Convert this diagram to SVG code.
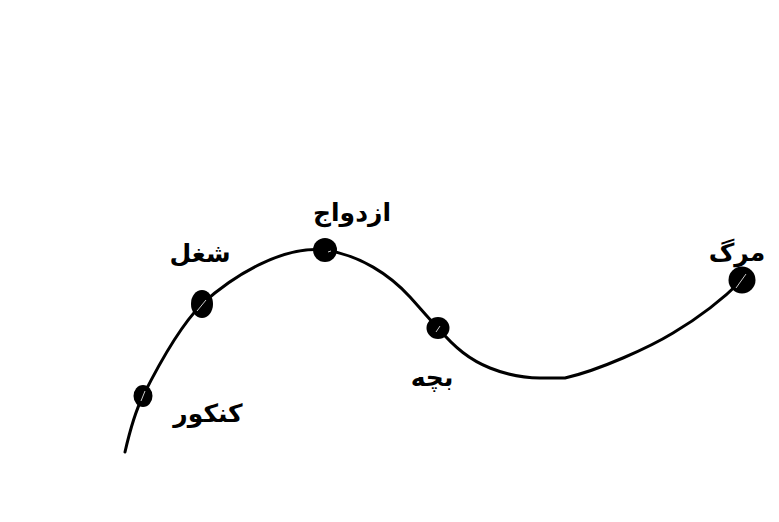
<svg xmlns="http://www.w3.org/2000/svg" width="779" height="522" viewBox="0 0 779 522">
<style>
.curve{fill:none;stroke:#000;stroke-width:3;stroke-linecap:round;stroke-linejoin:round}
.dot{fill:#000}
.hl{stroke:#fff;stroke-width:1;opacity:0.8}
.lbl{font-family:"DejaVu Sans",sans-serif;font-weight:bold;font-size:25px;fill:#000;text-anchor:middle;direction:rtl}
</style>
<rect width="779" height="522" fill="#fff"/>
<g id="connectors">
<path class="curve" d="M125,452 C130,430 136,410 143,396 C160,362 180,326 202,304 C235,274 285,245 325,250 C360,255 390,275 410,297 C420,308 430,320 438,328 C455,348 470,360 490,368 C505,374 520,378 540,378 L565,378 C600,370 650,347 673,333 C700,317 722,300 742,280"/>
</g>
<g id="konkur">
<ellipse class="dot" cx="143" cy="396" rx="9.5" ry="11"/>
<line class="hl" x1="141" y1="401" x2="145" y2="391"/>
<text class="lbl" x="208" y="422">کنکور</text>
</g>
<g id="shoghl">
<ellipse class="dot" cx="202" cy="304" rx="11" ry="14"/>
<line class="hl" x1="197" y1="311" x2="206" y2="300"/>
<text class="lbl" x="200" y="262">شغل</text>
</g>
<g id="ezdevaj">
<ellipse class="dot" cx="325" cy="250" rx="12" ry="12"/>
<line class="hl" x1="328" y1="252" x2="331" y2="251"/>
<text class="lbl" x="352" y="221">ازدواج</text>
</g>
<g id="bache">
<ellipse class="dot" cx="438" cy="328" rx="11.5" ry="11"/>
<line class="hl" x1="436" y1="332" x2="440" y2="326"/>
<text class="lbl" x="432" y="386">بچه</text>
</g>
<g id="marg">
<ellipse class="dot" cx="742" cy="280" rx="13.5" ry="13.5"/>
<line class="hl" x1="736" y1="288" x2="746" y2="274"/>
<text class="lbl" x="737" y="261">مرگ</text>
</g>
</svg>
